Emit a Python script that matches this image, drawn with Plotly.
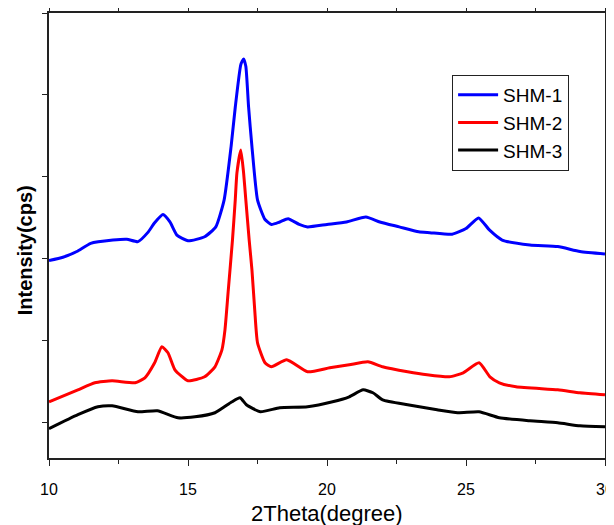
import plotly.graph_objects as go

# 2Theta (degree) and intensity (cps)
x_shm1 = [10.0, 10.5, 11.0, 11.5, 12.3, 12.8, 13.2, 13.55, 13.8, 14.1, 14.35, 14.6, 15.0, 15.6, 16.0,
          16.3, 16.55, 16.7, 16.9, 17.0, 17.08, 17.18, 17.3, 17.5, 17.77, 18.0, 18.3, 18.6, 19.0, 19.3,
          20.0, 20.7, 21.4, 21.9, 22.6, 23.3, 23.7, 24.5, 25.0, 25.45, 25.85, 26.3, 27.3, 28.3, 29.1, 30.0]
y_shm1 = [1980, 2020, 2090, 2190, 2230, 2240, 2210, 2320, 2440, 2540, 2450, 2290, 2220, 2270, 2390,
          2720, 3370, 3850, 4370, 4440, 4350, 3850, 3370, 2720, 2480, 2420, 2450, 2490, 2420, 2390,
          2420, 2450, 2510, 2450, 2390, 2330, 2320, 2300, 2370, 2500, 2350, 2230, 2170, 2150, 2090, 2060]

x_shm2 = [10.0, 11.04, 11.65, 12.27, 13.1, 13.45, 13.8, 14.06, 14.28, 14.53, 15.0, 15.6, 15.97, 16.22,
          16.33, 16.45, 16.6, 16.7, 16.76, 16.9, 17.0, 17.08, 17.2, 17.3, 17.4, 17.5, 17.77, 18.0, 18.55,
          19.3, 20.1, 20.8, 21.47, 22.0, 22.9, 23.6, 24.4, 24.9, 25.47, 25.86, 26.2, 26.8, 28.3, 29.1, 30.0]
y_shm2 = [256, 402, 488, 512, 488, 549, 732, 927, 854, 646, 512, 561, 683, 890,
          1134, 1622, 2232, 2720, 3049, 3329, 3049, 2720, 2232, 1866, 1378, 976, 732, 683, 768,
          622, 671, 707, 744, 683, 622, 585, 561, 610, 732, 561, 488, 439, 402, 366, 341]

x_shm3 = [10.0, 11.04, 11.76, 12.27, 13.2, 13.9, 14.64, 15.25, 15.97, 16.58, 16.87, 17.1, 17.6, 18.3,
          19.3, 20.2, 20.8, 21.3, 21.65, 22.0, 22.9, 23.96, 24.7, 25.47, 26.2, 27.3, 28.3, 29.1, 30.0]
y_shm3 = [-73, 98, 195, 207, 134, 146, 61, 73, 122, 256, 305, 220, 134, 183,
          195, 256, 317, 402, 366, 280, 220, 159, 122, 134, 61, 24, 0, -37, -49]

series = [
    ("SHM-1", x_shm1, y_shm1, "#0000ff"),
    ("SHM-2", x_shm2, y_shm2, "#ff0000"),
    ("SHM-3", x_shm3, y_shm3, "#000000"),
]

x_ticks = [10, 15, 20, 25, 30]
y_ticks = [0, 1000, 2000, 3000, 4000, 5000]

fig = go.Figure()
for name, xs, ys, col in series:
    fig.add_trace(go.Scatter(x=xs, y=ys, mode="lines", name=name,
                             line=dict(color=col, width=3, shape="spline", smoothing=0.5)))

# the page body adds an 8px offset, so the figure is sized to compensate
fig.update_layout(
    width=606, height=517,
    margin=dict(l=41, r=9, t=5, b=67),
    paper_bgcolor="white", plot_bgcolor="white",
    font=dict(family="Liberation Sans, Arial, sans-serif", color="black"),
    showlegend=True,
    legend=dict(x=0.725, y=0.861, xanchor="left", yanchor="top",
                bordercolor="#222", borderwidth=1, bgcolor="white",
                font=dict(size=19), tracegroupgap=0, itemwidth=40),
    xaxis=dict(range=[10, 30], tickvals=x_ticks, ticks="outside", ticklen=6, tickwidth=1,
               tickcolor="#222", showline=True, linecolor="#222", linewidth=1.5,
               mirror="ticks", showgrid=False, zeroline=False, automargin=False,
               tickfont=dict(size=16), ticklabelstandoff=10,
               minor=dict(dtick=2.5, ticks="outside", ticklen=4, tickcolor="#222", showgrid=False)),
    yaxis=dict(range=[-430, 5000], tickvals=y_ticks, ticks="outside", ticklen=5, tickwidth=1,
               tickcolor="#222", showticklabels=False, showline=True, linecolor="#222",
               linewidth=1.5, mirror=True, showgrid=False, zeroline=False, automargin=False),
    annotations=[
        dict(text="2Theta(degree)", xref="paper", yref="paper", x=0.5, y=-0.124,
             xanchor="center", yanchor="middle", showarrow=False, font=dict(size=22)),
        dict(text="<b>Intensity(cps)</b>", xref="paper", yref="paper", x=-0.043, y=0.467,
             xanchor="center", yanchor="middle", showarrow=False, textangle=-90,
             font=dict(size=20)),
    ],
)

fig.write_html("out.html")
